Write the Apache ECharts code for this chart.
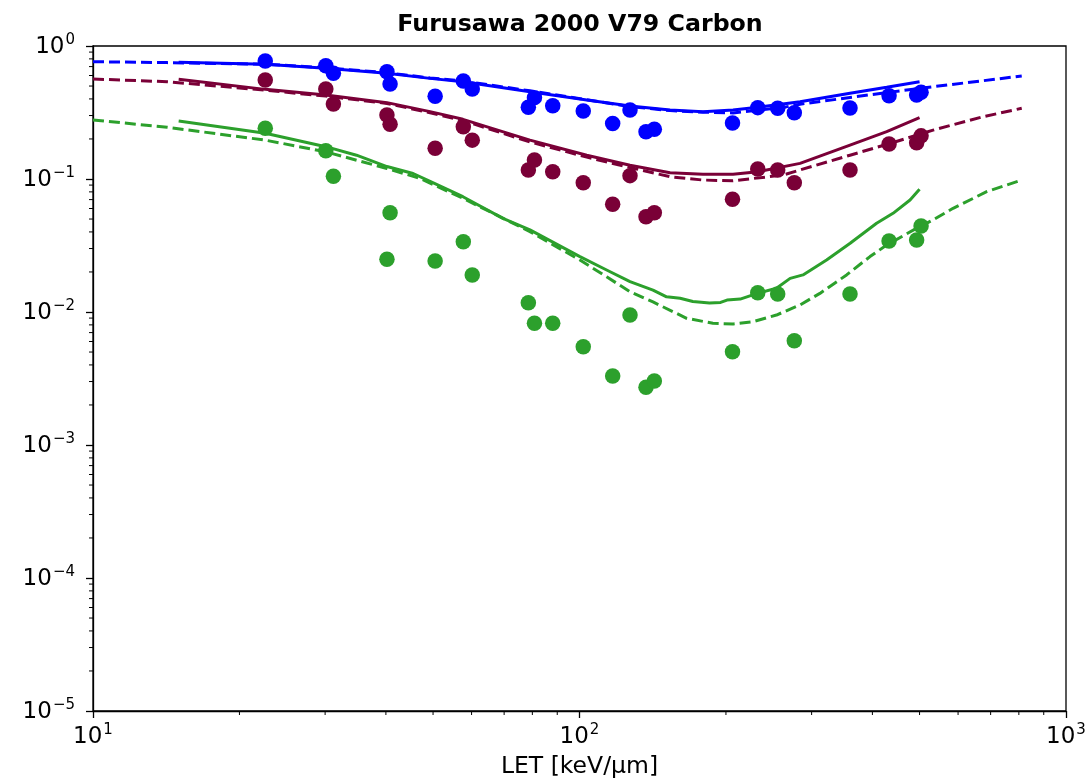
<!DOCTYPE html>
<html><head><meta charset="utf-8">
<script src="https://cdn.jsdelivr.net/npm/echarts@6/dist/echarts.min.js"></script>
<style>html,body{margin:0;padding:0;background:#fff}#c{width:1089px;height:781px}</style>
</head><body><div id="c"></div>
<script>
// Measured points (same LET values for the three survival levels)
const measuredLET = [22.6, 30.1, 31.2, 40.2, 40.8, 50.5, 57.7, 60.2, 78.5, 80.8, 88.1, 101.8, 117, 127, 137, 142.5, 206.3, 232.5, 255.5, 276.4, 359.8, 432.8, 493.2, 503.6];
const measuredBlue = [0.771, 0.711, 0.623, 0.641, 0.518, 0.419, 0.545, 0.475, 0.346, 0.409, 0.356, 0.325, 0.261, 0.330, 0.227, 0.237, 0.264, 0.344, 0.340, 0.315, 0.342, 0.423, 0.428, 0.449];
const measuredRed = [0.555, 0.475, 0.366, 0.303, 0.258, 0.170, 0.247, 0.196, 0.117, 0.139, 0.1135, 0.0938, 0.0645, 0.106, 0.0521, 0.0558, 0.0705, 0.119, 0.117, 0.0938, 0.117, 0.183, 0.1875, 0.211];
const measuredGreen = [0.241, 0.163, 0.105, 0.0249, 0.0558, 0.0242, 0.0338, 0.0190, 0.01175, 0.00822, 0.00822, 0.00548, 0.00330, 0.00949, 0.00272, 0.00303, 0.00503, 0.01396, 0.01365, 0.00609, 0.01365, 0.0342, 0.0348, 0.0443];

// Solid model curves
const solidLET = [15, 22.6, 30.1, 40.2, 49.3, 57.6, 79.1, 103.5, 127, 153.5, 179.4, 206.8, 232.5, 284, 359.8, 428, 500];
const solidBlue = [0.754, 0.728, 0.680, 0.623, 0.571, 0.539, 0.453, 0.393, 0.354, 0.330, 0.321, 0.330, 0.346, 0.381, 0.441, 0.489, 0.539];
const solidRed = [0.562, 0.472, 0.428, 0.375, 0.321, 0.281, 0.196, 0.151, 0.127, 0.1115, 0.1084, 0.1084, 0.1135, 0.131, 0.180, 0.227, 0.289];
const solidGreenLET = [15, 22.6, 30.1, 34.8, 40.2, 45.5, 49.3, 57.6, 69.6, 79.1, 100.2, 113.7, 127, 141.6, 151, 161, 171, 185, 195, 201, 214, 232, 254, 271, 288, 322, 360, 408, 441, 478, 500];
const solidGreen = [0.273, 0.221, 0.175, 0.151, 0.124, 0.110, 0.096, 0.0736, 0.0506, 0.0414, 0.0261, 0.0207, 0.0169, 0.0146, 0.0130, 0.0127, 0.0120, 0.0117, 0.0118, 0.0123, 0.0125, 0.0138, 0.0151, 0.0179, 0.0190, 0.0246, 0.0329, 0.0465, 0.0552, 0.0695, 0.0837];

// Dashed model curves
const dashedLET = [10, 14.2, 22.6, 30.1, 40.2, 49.3, 57.6, 79.1, 103.5, 127, 153.5, 179.4, 206.8, 262, 284, 359.8, 434.8, 533, 675, 811];
const dashedBlue = [0.762, 0.75, 0.73, 0.685, 0.63, 0.575, 0.545, 0.46, 0.395, 0.35, 0.327, 0.318, 0.314, 0.345, 0.365, 0.41, 0.45, 0.494, 0.548, 0.595];
const dashedRed = [0.565, 0.539, 0.465, 0.42, 0.37, 0.315, 0.275, 0.19, 0.146, 0.122, 0.104, 0.0982, 0.097, 0.107, 0.117, 0.151, 0.185, 0.233, 0.294, 0.340];
const dashedGreenLET = [10, 14.2, 22.6, 30.1, 40.2, 47.0, 57.6, 79.1, 100.2, 113.7, 127, 141.6, 166, 188, 207, 227, 254, 284, 312, 354, 395.5, 428, 493, 533, 586, 687, 811];
const dashedGreen = [0.278, 0.245, 0.196, 0.160, 0.120, 0.101, 0.0716, 0.0402, 0.0246, 0.0184, 0.0142, 0.0119, 0.00897, 0.00822, 0.00812, 0.00845, 0.00949, 0.0113, 0.0138, 0.0190, 0.0261, 0.0319, 0.0426, 0.0492, 0.0602, 0.0803, 0.0983];

// Minor tick values
const xMinorTicks = [20, 30, 40, 50, 60, 70, 80, 90, 200, 300, 400, 500, 600, 700, 800, 900];
const yMinorTicks = [];
[1e-5, 1e-4, 1e-3, 1e-2, 1e-1].forEach(d => { for (let k = 2; k <= 9; k++) yMinorTicks.push(+(k * d).toPrecision(3)); });

const BLUE = '#0000ff', RED = '#7a0037', GREEN = '#2ca02c';
const FONT = 'DejaVu Sans';

function zip(xs, ys) { return xs.map((x, i) => [x, ys[i]]); }
function supLabel(v) {
  const e = Math.round(Math.log10(v));
  const s = e < 0 ? '\u2212' + (-e) : '' + e;
  return '{b|10}{s|' + s + '}';
}
const rich = {
  b: { fontSize: 23, fontFamily: FONT, color: '#000', verticalAlign: 'bottom' },
  s: { fontSize: 15, fontFamily: FONT, color: '#000', verticalAlign: 'bottom', padding: [0, 0, 11, 1] }
};

function lineSeries(xs, ys, color, dashed) {
  return {
    type: 'line', data: zip(xs, ys), showSymbol: false, symbol: 'none', smooth: false,
    lineStyle: { color: color, width: 3, type: dashed ? [11, 5] : 'solid' },
    z: 3, silent: true, animation: false
  };
}
function scatterSeries(ys, color) {
  return {
    type: 'scatter', data: zip(measuredLET, ys), symbol: 'circle', symbolSize: 15.5,
    itemStyle: { color: color, opacity: 1 }, z: 5, animation: false
  };
}

const chart = echarts.init(document.getElementById('c'), null, { renderer: 'canvas' });
chart.setOption({
  backgroundColor: '#fff',
  animation: false,
  title: {
    text: 'Furusawa 2000 V79 Carbon', left: 575, top: 8, textAlign: 'center',
    textStyle: { fontFamily: FONT, fontWeight: 'bold', fontSize: 23.7, color: '#000' }
  },
  grid: { left: 93, right: 23, top: 46, bottom: 70, show: true, borderColor: '#000', borderWidth: 1.3, backgroundColor: 'transparent', containLabel: false, outerBoundsMode: 'none' },
  xAxis: {
    type: 'log', logBase: 10, min: 10, max: 1000,
    name: 'LET [keV/\u00b5m]', nameLocation: 'middle', nameGap: 44,
    nameTextStyle: { fontFamily: FONT, fontSize: 23.5, color: '#000' },
    axisLine: { show: true, lineStyle: { color: '#000', width: 1.3 } },
    axisTick: { show: true, inside: false, length: 7, lineStyle: { color: '#000', width: 1.3 } },
    axisLabel: { formatter: supLabel, rich: rich, margin: 12 },
    splitLine: { show: false }, minorTick: { show: false }
  },
  yAxis: {
    type: 'log', logBase: 10, min: 1e-5, max: 1,
    axisLine: { show: true, lineStyle: { color: '#000', width: 1.3 } },
    axisTick: { show: true, inside: false, length: 7, lineStyle: { color: '#000', width: 1.3 } },
    axisLabel: { formatter: supLabel, rich: rich, margin: 18 },
    splitLine: { show: false }, minorTick: { show: false }
  },
  series: [
    lineSeries(dashedLET, dashedBlue, BLUE, true),
    lineSeries(solidLET, solidBlue, BLUE, false),
    lineSeries(dashedLET, dashedRed, RED, true),
    lineSeries(solidLET, solidRed, RED, false),
    lineSeries(dashedGreenLET, dashedGreen, GREEN, true),
    lineSeries(solidGreenLET, solidGreen, GREEN, false),
    scatterSeries(measuredBlue, BLUE),
    scatterSeries(measuredRed, RED),
    scatterSeries(measuredGreen, GREEN),
    {
      type: 'custom', coordinateSystem: 'cartesian2d', silent: true, clip: false, animation: false,
      data: xMinorTicks.map(v => [v, 1e-5]),
      renderItem: function (params, api) {
        const p = api.coord([api.value(0), api.value(1)]);
        return { type: 'line', shape: { x1: p[0], y1: p[1], x2: p[0], y2: p[1] + 4 }, style: { stroke: '#000', lineWidth: 1 } };
      }
    },
    {
      type: 'custom', coordinateSystem: 'cartesian2d', silent: true, clip: false, animation: false,
      data: yMinorTicks.map(v => [10, v]),
      renderItem: function (params, api) {
        const p = api.coord([api.value(0), api.value(1)]);
        return { type: 'line', shape: { x1: p[0], y1: p[1], x2: p[0] - 4, y2: p[1] }, style: { stroke: '#000', lineWidth: 1 } };
      }
    }
  ]
});
</script>
</body></html>
